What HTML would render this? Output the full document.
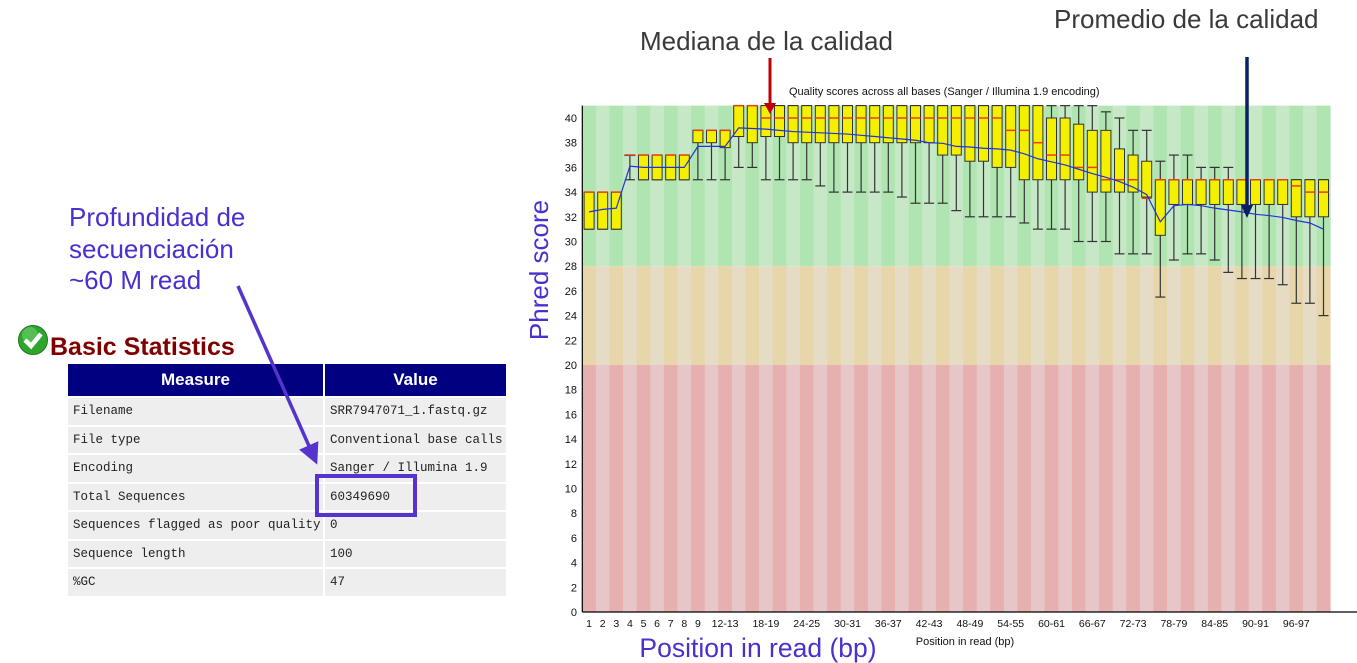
<!DOCTYPE html>
<html><head><meta charset="utf-8"><style>
body{margin:0;width:1357px;height:663px;overflow:hidden;background:#fff;font-family:"Liberation Sans",sans-serif;position:relative}
.ann{position:absolute;font-size:26px;color:#3a3a3a;white-space:nowrap}
table{position:absolute;left:68px;top:364px;border-collapse:separate;border-spacing:2px 0;width:442px;margin-left:-2px}
th{background:#000080;color:#fff;font-size:17px;height:32px;font-weight:bold;padding:0;border-bottom:2px solid #fff}
td{background:#eee;font-family:"Liberation Mono",monospace;font-size:12.5px;height:26.5px;padding:0 0 0 5px;border-bottom:2px solid #fff;color:#222}
</style></head><body>
<div class="ann" style="left:640px;top:26px">Mediana de la calidad</div>
<div class="ann" style="left:1054px;top:4px">Promedio de la calidad</div>
<div class="ann" style="left:69px;top:202px;color:#4b30d0;line-height:31.5px">Profundidad de<br>secuenciación<br>~60 M read</div>
<div style="position:absolute;left:50px;top:333px;font-size:25px;font-weight:bold;color:#800000">Basic Statistics</div>
<svg style="position:absolute;left:17px;top:324px" width="32" height="32"><circle cx="16" cy="16" r="14.5" fill="#2ea52e" stroke="#1a7a1a"/><circle cx="13" cy="11" r="8" fill="#7bd87b" opacity="0.5"/><path d="M8 16 L14 22 L24 10" stroke="#fff" stroke-width="4.5" fill="none"/></svg>
<table>
<tr><th style="width:255px">Measure</th><th>Value</th></tr>
<tr><td>Filename</td><td>SRR7947071_1.fastq.gz</td></tr>
<tr><td>File type</td><td>Conventional base calls</td></tr>
<tr><td>Encoding</td><td>Sanger / Illumina 1.9</td></tr>
<tr><td>Total Sequences</td><td>60349690</td></tr>
<tr><td>Sequences flagged as poor quality</td><td>0</td></tr>
<tr><td>Sequence length</td><td>100</td></tr>
<tr><td>%GC</td><td>47</td></tr>
</table>
<svg id="ov" width="1357" height="663" style="position:absolute;left:0;top:0">
<defs>
<marker id="ap" markerWidth="6" markerHeight="6" refX="3" refY="3" orient="auto"><path d="M0,0 L6,3 L0,6z" fill="#5533cc"/></marker>
</defs>
<line x1="238" y1="286" x2="313" y2="455" stroke="#5533cc" stroke-width="3.5" marker-end="url(#ap)"/>
<rect x="317" y="476" width="98" height="39" fill="none" stroke="#5533cc" stroke-width="4"/>
</svg>
<svg id="chart" width="1357" height="663" style="position:absolute;left:0;top:0"></svg>
<script>
const categories=["1","2","3","4","5","6","7","8","9","10-11","12-13","14-15","16-17","18-19","20-21","22-23","24-25","26-27","28-29","30-31","32-33","34-35","36-37","38-39","40-41","42-43","44-45","46-47","48-49","50-51","52-53","54-55","56-57","58-59","60-61","62-63","64-65","66-67","68-69","70-71","72-73","74-75","76-77","78-79","80-81","82-83","84-85","86-87","88-89","90-91","92-93","94-95","96-97","98-99","100"];
const medians=[34,34,34,37,37,37,37,37,39,39,39,41,41,40,40,40,40,40,40,40,40,40,40,40,40,40,40,40,40,40,40,39,39,38,37,37,36,36,35,35,35,33.5,35,35,35,35,35,35,35,35,35,35,34.5,34,34];
const q1=[31,31,31,37,35,35,35,35,38,38,37.6,38.5,38,38.5,38.5,38,38,38,38,38,38,38,38,38,38,38,37,37,36.5,36.5,36,36,35,35,35,35,35,34,34,34,34,33.6,30.5,33,33,33,33,33,33,33,33,33,32,32,32];
const q3=[34,34,34,37,37,37,37,37,39,39,39,41,41,41,41,41,41,41,41,41,41,41,41,41,41,41,41,41,41,41,41,41,41,41,40,40,39.5,39,39,37.5,37,36.5,35,35,35,35,35,35,35,35,35,35,35,35,35];
const lows=[31,31,31,35,35,35,35,35,35,35,35,36,36,35,35,35,35,34.5,34,34,34,34,34,33.6,33.1,33.1,33.1,32.5,32,32,32,32,31.5,31,31,31,30,30,30,29,29,29,25.5,28.5,29,29,28.5,27.5,27,27,27,26.5,25,25,24];
const highs=[34,34,34,37,37,37,37,37,39,39,39,41,41,41,41,41,41,41,41,41,41,41,41,41,41,41,41,41,41,41,41,41,41,41,41,41,41,41,40.5,40,39,39,36.5,37,37,36,36,36,35,35,35,35,35,35,35];
const means=[32.4,32.6,32.7,36.1,36.0,36.0,36.0,36.0,37.7,37.7,37.7,39.2,39.15,39.1,39.0,38.9,38.85,38.8,38.75,38.7,38.6,38.5,38.4,38.3,38.2,38.0,37.95,37.7,37.65,37.55,37.5,37.4,37.1,36.7,36.45,36.2,35.85,35.5,35.2,34.85,34.4,33.8,31.6,32.9,33.0,32.9,32.7,32.55,32.4,32.2,32.1,31.95,31.7,31.5,31.0];
const yTicks=[0,2,4,6,8,10,12,14,16,18,20,22,24,26,28,30,32,34,36,38,40];
const xLabelIdx=[0,1,2,3,4,5,6,7,8,10,13,16,19,22,25,28,31,34,37,40,43,46,49,52];
const NS="http://www.w3.org/2000/svg";
const svg=document.getElementById('chart');
const X0=582.3,BW=13.6,Y0=612,YS=12.35;
function xs(i){return X0+i*BW;}
function ys(v){return Y0-v*YS;}
function mk(t,a,p){const e=document.createElementNS(NS,t);for(const k in a)e.setAttribute(k,a[k]);(p||svg).appendChild(e);return e;}
const W=categories.length*BW;
const zones=[[28,41,'#b0e4b0','#c6e8c6'],[20,28,'#e6d6aa','#e6dcc6'],[0,20,'#e6b0b0','#e6c6c6']];
zones.forEach(z=>{categories.forEach((c,i)=>{
const r=mk('rect',{x:xs(i),y:ys(z[1]),width:BW+0.3,height:ys(z[0])-ys(z[1]),fill:i%2?z[3]:z[2]});


});});
let t=mk('text',{x:X0+W/2-12,y:95,'font-size':11,'text-anchor':'middle',fill:'#111'});t.textContent='Quality scores across all bases (Sanger / Illumina 1.9 encoding)';

categories.forEach((c,i)=>{
const cx=xs(i)+BW/2,bw=10;
const g=mk('g',{});


mk('line',{x1:cx,x2:cx,y1:ys(highs[i]),y2:ys(lows[i]),stroke:'#333','stroke-width':1.2},g);
mk('line',{x1:cx-5,x2:cx+5,y1:ys(highs[i]),y2:ys(highs[i]),stroke:'#333','stroke-width':1.2},g);
mk('line',{x1:cx-5,x2:cx+5,y1:ys(lows[i]),y2:ys(lows[i]),stroke:'#333','stroke-width':1.2},g);
mk('rect',{x:cx-bw/2,y:ys(q3[i]),width:bw,height:Math.max(0.5,ys(q1[i])-ys(q3[i])),fill:'#f5f000',stroke:'#333','stroke-width':1},g);
mk('line',{x1:cx-bw/2,x2:cx+bw/2,y1:ys(medians[i]),y2:ys(medians[i]),stroke:'#e8401a','stroke-width':1.5},g);
});
const pl=mk('polyline',{points:means.map((m,i)=>(xs(i)+BW/2)+','+ys(m)).join(' '),fill:'none',stroke:'#2233dd','stroke-width':1.2});

let ax=mk('line',{x1:X0,x2:X0,y1:ys(41),y2:Y0,stroke:'#000','stroke-width':1.2});

ax=mk('line',{x1:X0,x2:1357,y1:Y0,y2:Y0,stroke:'#000','stroke-width':1.2});

yTicks.forEach(v=>{const e=mk('text',{x:577,y:ys(v)+4,'font-size':11,'text-anchor':'end',fill:'#111'});e.textContent=v;
});
xLabelIdx.forEach(i=>{const e=mk('text',{x:xs(i)+BW/2,y:627,'font-size':10.5,'text-anchor':'middle',fill:'#111'});e.textContent=categories[i];
});
t=mk('text',{x:965,y:645,'font-size':11,'text-anchor':'middle',fill:'#111'});t.textContent='Position in read (bp)';

t=mk('text',{x:758,y:657,'font-size':26.5,'text-anchor':'middle',fill:'#4b30d0'});t.textContent='Position in read (bp)';

t=mk('text',{x:0,y:0,'font-size':26,'text-anchor':'middle',fill:'#4b30d0',transform:'translate(548,270) rotate(-90)'});t.textContent='Phred score';

let a=mk('line',{x1:770,y1:58,x2:770,y2:104,stroke:'#c00000','stroke-width':3});

a=mk('path',{d:'M764,103 L776,103 L770,114z',fill:'#c00000'});

a=mk('line',{x1:1247,y1:57,x2:1247,y2:207,stroke:'#0a2060','stroke-width':3.5});

a=mk('path',{d:'M1241,205 L1253,205 L1247,218z',fill:'#0a2060'});

</script>
</body></html>
